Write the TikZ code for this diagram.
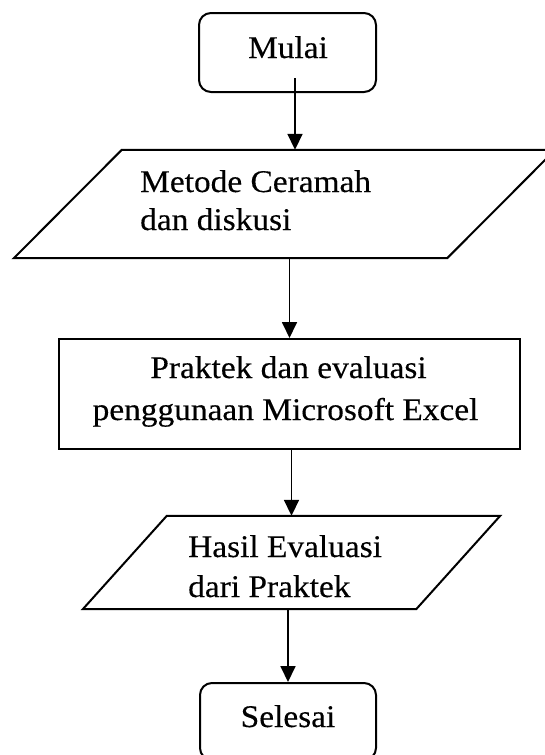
\documentclass[tikz,border=0pt]{standalone}
\usepackage{fontspec}
\setmainfont{Liberation Serif}[FakeStretch=1.06,FakeBold=0.3]
\usetikzlibrary{arrows.meta}
\begin{document}
\begin{tikzpicture}[x=1pt,y=-1pt,
  box/.style={draw, line width=2pt, inner sep=0pt},
  term/.style={box, rounded corners=12pt},
  ghost/.style={inner sep=0pt},
  para/.style={line width=2pt, line join=miter},
  txt/.style={inner sep=0pt, font=\fontsize{31.5}{40}\selectfont},
  arr/.style={line width=1.8pt, -{Triangle[length=16pt,width=15pt]}}]
\useasboundingbox (0,0) rectangle (545,755);
\clip (0,0) rectangle (545,755);
\fill[white] (0,0) rectangle (545,755);
% nodes
\node[term, minimum width=177pt, minimum height=79pt] (mulai) at (287.5,52.5) {};
\node[txt, anchor=base] (tmulai) at (288,58) {Mulai};

\node[ghost, minimum width=541pt, minimum height=108pt] (p1) at (284.5,204) {};
\draw[para] (p1.south west) -- ([xshift=108pt]p1.north west) -- (p1.north east) -- ([xshift=-108pt]p1.south east) -- cycle;
\node[txt, anchor=base west] (tp1a) at (140,192) {Metode Ceramah};
\node[txt, anchor=base west] (tp1b) at (140,230) {dan diskusi};

\node[box, minimum width=461pt, minimum height=110pt] (rect) at (289.5,394) {};
\node[txt, anchor=base] (trecta) at (288.5,378) {Praktek dan evaluasi};
\node[txt, anchor=base] (trectb) at (285.5,420) {penggunaan Microsoft Excel};

\node[ghost, minimum width=417pt, minimum height=93pt] (p2) at (291.5,562.5) {};
\draw[para] (p2.south west) -- ([xshift=84pt]p2.north west) -- (p2.north east) -- ([xshift=-84pt]p2.south east) -- cycle;
\node[txt, anchor=base west] (tp2a) at (188,557) {Hasil Evaluasi};
\node[txt, anchor=base west] (tp2b) at (188,597) {dari Praktek};

\node[term, minimum width=176pt, minimum height=77pt] (sel) at (288,721.5) {};
\node[txt, anchor=base] (tsel) at (288,727) {Selesai};

% connectors
\draw[arr] ([xshift=7.5pt,yshift=15pt]mulai.south) -- ([xshift=7.5pt]mulai.south |- p1.north);
\draw[arr] (rect.north |- p1.south) -- (rect.north);
\draw[arr] (p2.north |- rect.south) -- (p2.north);
\draw[arr] (sel.north |- p2.south) -- (sel.north);
\end{tikzpicture}
\end{document}
